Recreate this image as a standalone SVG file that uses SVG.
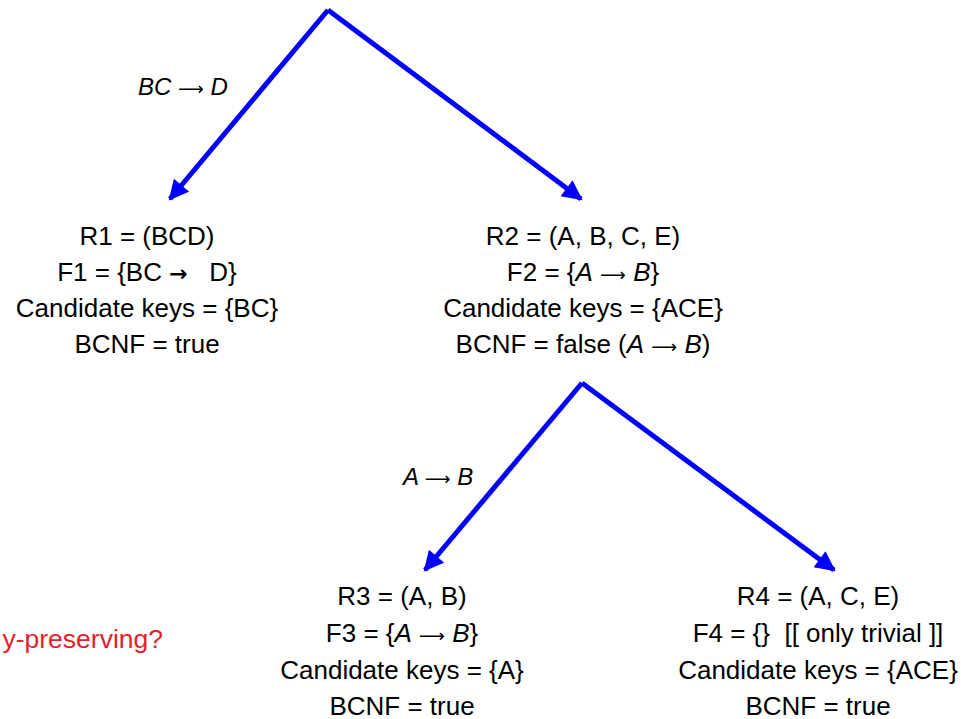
<svg xmlns="http://www.w3.org/2000/svg" width="966" height="719" viewBox="0 0 966 719">
<style>
.t{font-family:"Liberation Sans",Arial,sans-serif;font-size:26px;fill:#000;text-anchor:middle}
.i{font-style:italic}
.ar{font-family:"DejaVu Sans",sans-serif;font-style:normal;font-size:18px}
.lbl{font-family:"Liberation Sans",Arial,sans-serif;font-size:24px;fill:#000}
.red{font-family:"Liberation Sans",Arial,sans-serif;font-size:26.5px;fill:#e3212b;text-anchor:end}
.c{stroke:#0000ff;stroke-width:5;fill:none;marker-end:url(#ah)}
</style>
<defs>
<marker id="ah" viewBox="0 0 10 10" refX="9" refY="5" markerWidth="4.4" markerHeight="4" orient="auto" markerUnits="strokeWidth">
<path d="M0,0 L10,5 L0,10 z" fill="#0000ff"/>
</marker>
</defs>
<rect width="966" height="719" fill="#fff"/>
<g id="connectors">
<line class="c" x1="328" y1="10" x2="170" y2="199"/>
<line class="c" x1="328" y1="10" x2="581" y2="199"/>
<line class="c" x1="582" y1="383" x2="425" y2="570"/>
<line class="c" x1="582" y1="383" x2="834" y2="570"/>
<text class="lbl i" x="138" y="95">BC <tspan class="ar">⟶</tspan> D</text>
<text class="lbl i" x="403" y="485">A <tspan class="ar">⟶</tspan> B</text>
</g>
<g id="R1">
<text class="t" x="147" y="245">R1 = (BCD)</text>
<text class="t" x="147" y="281" xml:space="preserve">F1 = {BC <tspan font-family="DejaVu Sans" font-size="22" font-weight="bold">→</tspan>   D}</text>
<text class="t" x="147" y="317">Candidate keys = {BC}</text>
<text class="t" x="147" y="353">BCNF = true</text>
</g>
<g id="R2">
<text class="t" x="583" y="245">R2 = (A, B, C, E)</text>
<text class="t" x="583" y="281">F2 = {<tspan class="i">A</tspan> <tspan class="ar">⟶</tspan> <tspan class="i">B</tspan>}</text>
<text class="t" x="583" y="317">Candidate keys = {ACE}</text>
<text class="t" x="583" y="353">BCNF = false (<tspan class="i">A</tspan> <tspan class="ar">⟶</tspan> <tspan class="i">B</tspan>)</text>
</g>
<g id="R3">
<text class="t" x="402" y="605">R3 = (A, B)</text>
<text class="t" x="402" y="642">F3 = {<tspan class="i">A</tspan> <tspan class="ar">⟶</tspan> <tspan class="i">B</tspan>}</text>
<text class="t" x="402" y="679">Candidate keys = {A}</text>
<text class="t" x="402" y="715">BCNF = true</text>
</g>
<g id="R4">
<text class="t" x="818" y="605">R4 = (A, C, E)</text>
<text class="t" x="818" y="642" xml:space="preserve">F4 = {}  [[ only trivial ]]</text>
<text class="t" x="818" y="679">Candidate keys = {ACE}</text>
<text class="t" x="818" y="715">BCNF = true</text>
</g>
<g id="note">
<text class="red" x="163" y="648">y-preserving?</text>
</g>
</svg>
